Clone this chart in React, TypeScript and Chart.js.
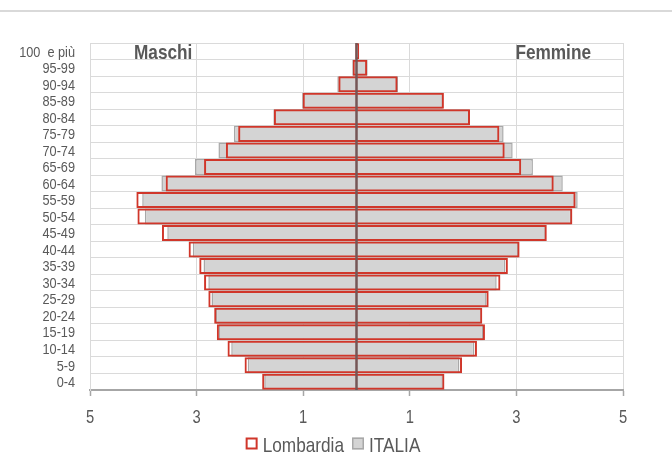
import React, { useEffect, useRef } from "react";
import { Chart, registerables } from "chart.js";

Chart.register(...registerables);

const categories = [
  "100  e più", "95-99", "90-94", "85-89", "80-84", "75-79", "70-74", "65-69",
  "60-64", "55-59", "50-54", "45-49", "40-44", "35-39", "30-34", "25-29",
  "20-24", "15-19", "10-14", "5-9", "0-4",
];

const lombardiaMaschi = [0.02, 0.07, 0.34, 1.01, 1.55, 2.22, 2.45, 2.86, 3.58, 4.13, 4.11, 3.65, 3.15, 2.95, 2.86, 2.78, 2.67, 2.62, 2.42, 2.10, 1.77];
const italiaMaschi = [0.02, 0.08, 0.36, 1.02, 1.56, 2.30, 2.59, 3.03, 3.66, 4.02, 3.97, 3.55, 3.07, 2.87, 2.78, 2.72, 2.64, 2.58, 2.35, 2.04, 1.73];
const lombardiaFemmine = [0.05, 0.20, 0.77, 1.64, 2.13, 2.68, 2.78, 3.09, 3.70, 4.11, 4.05, 3.57, 3.06, 2.84, 2.70, 2.48, 2.36, 2.41, 2.26, 1.98, 1.65];
const italiaFemmine = [0.05, 0.21, 0.78, 1.62, 2.12, 2.76, 2.93, 3.31, 3.87, 4.15, 4.03, 3.55, 3.04, 2.79, 2.63, 2.44, 2.35, 2.38, 2.21, 1.93, 1.62];

const xTickValues = [-5, -3, -1, 1, 3, 5];
const seriesNames = ["Lombardia", "ITALIA"];
const panelTitles = ["Maschi", "Femmine"];

const FONT = "'Liberation Sans', Arial, sans-serif";
const SX = 0.82; // emulate a narrow face
const TEXT = "#595959";
const RED = "#D0362A";
const GREY_FILL = "#D4D4D4";
const GREY_BORDER = "#A8A8A8";
const GRID = "#DADADA";

function narrowText(ctx: CanvasRenderingContext2D, text: string, x: number, y: number, align: "left" | "right" | "center") {
  const w = ctx.measureText(text).width * SX;
  let left = x;
  if (align === "right") left = x - w;
  else if (align === "center") left = x - w / 2;
  ctx.save();
  ctx.translate(left, y);
  ctx.scale(SX, 1);
  ctx.textAlign = "left";
  ctx.fillText(text, 0, 0);
  ctx.restore();
  return w;
}

const decorPlugin = {
  id: "decor",
  beforeDraw(chart: any) {
    const ctx = chart.ctx;
    ctx.save();
    ctx.strokeStyle = "#D9D9D9";
    ctx.lineWidth = 2;
    ctx.beginPath();
    ctx.moveTo(0, 11);
    ctx.lineTo(chart.width, 11);
    ctx.stroke();
    ctx.restore();
  },
  afterDatasetsDraw(chart: any) {
    const ctx: CanvasRenderingContext2D = chart.ctx;
    const area = chart.chartArea;
    const xs = chart.scales.x;
    const ys = chart.scales.y;
    const x0 = xs.getPixelForValue(0);
    ctx.save();
    ctx.strokeStyle = "#765656";
    ctx.lineWidth = 2.5;
    ctx.beginPath();
    ctx.moveTo(x0, area.top);
    ctx.lineTo(x0, area.bottom);
    ctx.stroke();

    ctx.fillStyle = TEXT;
    ctx.textBaseline = "alphabetic";
    ctx.font = `bold 21px ${FONT}`;
    narrowText(ctx, panelTitles[0], area.left + 44, area.top + 16, "left");
    narrowText(ctx, panelTitles[1], area.right - 32, area.top + 16, "right");

    // y tick labels
    ctx.font = `15.5px ${FONT}`;
    ys.ticks.forEach((t: any, i: number) => {
      const y = ys.getPixelForTick(i);
      narrowText(ctx, String(ys.getLabelForValue(t.value)), area.left - 15, y + 5.3, "right");
    });

    // x tick labels
    ctx.font = `18px ${FONT}`;
    xs.ticks.forEach((t: any) => {
      const x = xs.getPixelForValue(t.value);
      narrowText(ctx, String(Math.abs(t.value)), x, 423, "center");
    });

    // legend
    ctx.font = `21px ${FONT}`;
    const items = [0, 1].map((i) => {
      const ds = chart.data.datasets[i];
      return { text: ds.label as string, ds, w: ctx.measureText(ds.label).width * SX };
    });
    const box = 12;
    const gap = 5;
    const itemGap = 8;
    const total = items.reduce((s, it) => s + box + gap + it.w, 0) + itemGap * (items.length - 1);
    let cx = 333 - total / 2;
    const baseY = 452;
    items.forEach((it) => {
      const bg = it.ds.backgroundColor;
      ctx.fillStyle = bg === "rgba(255,255,255,0)" ? "#FFFFFF" : bg;
      ctx.fillRect(cx, baseY - 14.5, box, box);
      ctx.strokeStyle = it.ds.borderColor;
      ctx.lineWidth = it.ds.borderWidth;
      ctx.strokeRect(cx + it.ds.borderWidth / 2, baseY - 14.5 + it.ds.borderWidth / 2, box - it.ds.borderWidth, box - it.ds.borderWidth);
      ctx.fillStyle = TEXT;
      narrowText(ctx, it.text, cx + box + gap, baseY, "left");
      cx += box + gap + it.w + itemGap;
    });
    ctx.restore();
  },
};

export default function App() {
  const ref = useRef<HTMLCanvasElement | null>(null);

  useEffect(() => {
    document.body.style.margin = "0";
    const canvas = ref.current;
    if (!canvas) return;
    const red = {
      backgroundColor: "rgba(255,255,255,0)",
      borderColor: RED,
      borderWidth: 2,
      grouped: false,
      borderSkipped: "start" as const,
    };
    const grey = {
      backgroundColor: GREY_FILL,
      borderColor: GREY_BORDER,
      borderWidth: 1.5,
      grouped: false,
      borderSkipped: "start" as const,
    };
    const chart = new Chart(canvas, {
      type: "bar",
      data: {
        labels: categories,
        datasets: [
          { label: seriesNames[0], data: lombardiaMaschi.map((v) => -v), ...red },
          { label: seriesNames[1], data: italiaMaschi.map((v) => -v), ...grey },
          { label: seriesNames[0] + " F", data: lombardiaFemmine, ...red },
          { label: seriesNames[1] + " F", data: italiaFemmine, ...grey },
        ],
      },
      options: {
        indexAxis: "y",
        animation: false,
        responsive: false,
        maintainAspectRatio: false,
        datasets: { bar: { categoryPercentage: 1, barPercentage: 0.97 } },
        layout: { padding: { top: 43, right: 49, bottom: 56, left: 0 } },
        plugins: {
          tooltip: { enabled: false },
          legend: { display: false },
        },
        scales: {
          x: {
            min: -5,
            max: 5,
            afterBuildTicks: (scale: any) => {
              scale.ticks = xTickValues.map((v) => ({ value: v }));
            },
            afterFit: (scale: any) => {
              scale.height = 30;
            },
            grid: {
              color: GRID,
              lineWidth: 1,
              drawTicks: true,
              tickLength: 6,
              tickColor: "#A6A6A6",
              tickWidth: 1.5,
            },
            border: { color: "#A6A6A6", width: 2 },
            ticks: { display: false, autoSkip: false },
          },
          y: {
            afterFit: (scale: any) => {
              scale.width = 90;
            },
            grid: {
              color: GRID,
              lineWidth: 1,
              offset: true,
              drawTicks: false,
            },
            border: { color: GRID, width: 1 },
            ticks: { display: false, autoSkip: false },
          },
        },
      },
      plugins: [decorPlugin],
    });
    return () => chart.destroy();
  }, []);

  return <canvas ref={ref} width={672} height={476} style={{ display: "block" }} />;
}
